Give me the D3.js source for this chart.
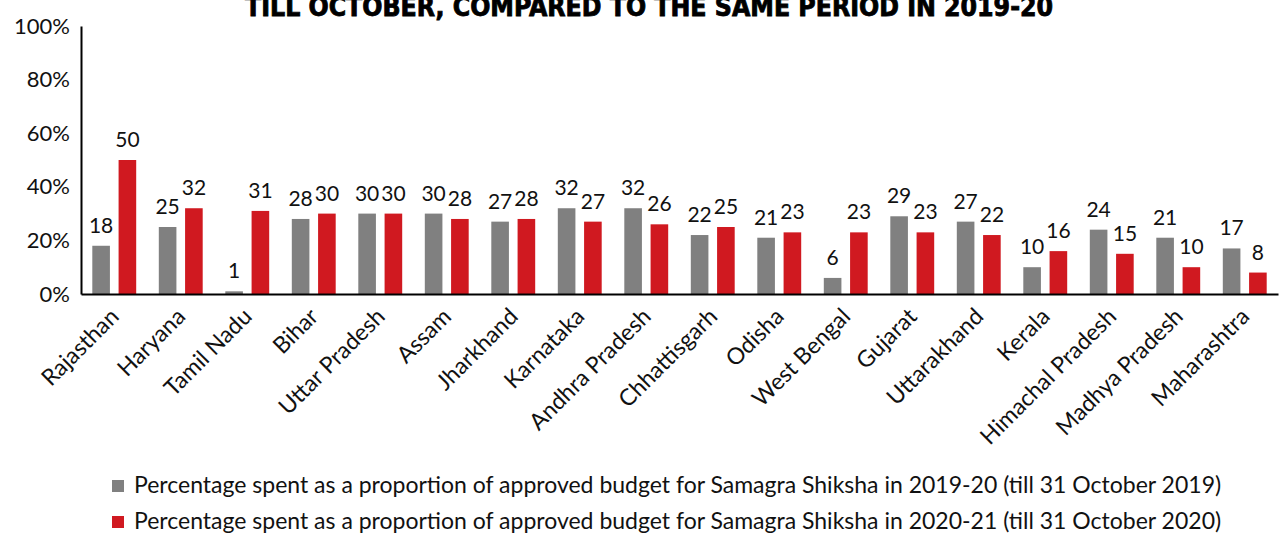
<!DOCTYPE html>
<html>
<head>
<meta charset="utf-8">
<script src="https://cdn.jsdelivr.net/npm/d3@7"></script>
<style>
body{margin:0;background:#fff;}
svg{display:block;}
</style>
</head>
<body>
<svg id="chart" width="1279" height="534"></svg>
<script>
// 数据
var states=["Rajasthan","Haryana","Tamil Nadu","Bihar","Uttar Pradesh","Assam","Jharkhand","Karnataka","Andhra Pradesh","Chhattisgarh","Odisha","West Bengal","Gujarat","Uttarakhand","Kerala","Himachal Pradesh","Madhya Pradesh","Maharashtra"];
var spent2019=[18,25,1,28,30,30,27,32,32,22,21,6,29,27,10,24,21,17];
var spent2020=[50,32,31,30,30,28,28,27,26,25,23,23,23,22,16,15,10,8];
var yTicks=[0,20,40,60,80,100];
var seriesNames=["Percentage spent as a proportion of approved budget for Samagra Shiksha in 2019-20 (till 31 October 2019)","Percentage spent as a proportion of approved budget for Samagra Shiksha in 2020-21 (till 31 October 2020)"];
var titleText="TILL OCTOBER, COMPARED TO THE SAME PERIOD IN 2019-20";

var colors=["#808080","#d01920"];
var svg=d3.select("#chart");
var pLeft=81,pRight=1278,pTop=26,pBottom=294;
var labelFont="Lato, 'Open Sans', sans-serif";

var x=d3.scaleBand().domain(states).range([pLeft,pRight]).paddingInner(0.34).paddingOuter(0.17);
var x1=d3.scaleBand().domain([0,1]).range([0,x.bandwidth()]).paddingInner(0.33);
var y=d3.scaleLinear().domain([0,100]).range([pBottom,pTop]);

/*标题*/
svg.append("text").attr("x",649).attr("y",16)
	.attr("text-anchor","middle")
	.attr("font-family","'Liberation Sans Narrow','DejaVu Sans Condensed',sans-serif")
	.attr("font-weight","bold").attr("font-size",26)
	.attr("stroke","#000").attr("stroke-width",0.8)
	.attr("textLength",808).attr("lengthAdjust","spacingAndGlyphs")
	.text(titleText);

/*柱子*/
var rows=states.map(function(s,i){return {state:s,vals:[spent2019[i],spent2020[i]]};});
var groups=svg.selectAll(".grp").data(rows).enter().append("g")
	.attr("class","grp")
	.attr("transform",function(d){return "translate("+x(d.state)+",0)";});
groups.selectAll("rect").data(function(d){return d.vals;}).enter().append("rect")
	.attr("x",function(d,i){return x1(i);})
	.attr("y",function(d){return y(d);})
	.attr("width",x1.bandwidth())
	.attr("height",function(d){return pBottom-y(d);})
	.attr("fill",function(d,i){return colors[i];});
groups.selectAll("text").data(function(d){return d.vals;}).enter().append("text")
	.attr("x",function(d,i){return x1(i)+x1.bandwidth()/2;})
	.attr("y",function(d){return y(d)-13;})
	.attr("text-anchor","middle")
	.attr("font-family",labelFont).attr("font-size",21).attr("fill","#111")
	.text(function(d){return d;});

/*坐标轴*/
var yAxis=svg.append("g").attr("transform","translate("+pLeft+",0)")
	.call(d3.axisLeft(y).tickValues(yTicks).tickSize(0).tickPadding(11).tickFormat(function(d){return d+"%";}));
yAxis.select(".domain").attr("stroke","#000").attr("stroke-width",2);
yAxis.selectAll("text").attr("font-family",labelFont).attr("font-size",22).attr("fill","#111");

var xAxis=svg.append("g").attr("transform","translate(0,"+pBottom+")")
	.call(d3.axisBottom(x).tickSize(0).tickPadding(0));
xAxis.select(".domain").attr("stroke","#000").attr("stroke-width",2);
xAxis.selectAll("text")
	.attr("font-family",labelFont).attr("font-size",23).attr("fill","#111")
	.attr("text-anchor","end")
	.attr("dy",0)
	.attr("transform","translate(6,24) rotate(-45)");

/*图例*/
var legend=svg.selectAll(".legend").data(seriesNames).enter().append("g")
	.attr("class","legend")
	.attr("transform",function(d,i){return "translate(112,"+(480+i*36)+")";});
legend.append("rect").attr("width",12).attr("height",12)
	.attr("fill",function(d,i){return colors[i];});
legend.append("text").attr("x",22).attr("y",13)
	.attr("font-family",labelFont).attr("font-size",23).attr("fill","#111")
	.text(function(d){return d;});
</script>
</body>
</html>
